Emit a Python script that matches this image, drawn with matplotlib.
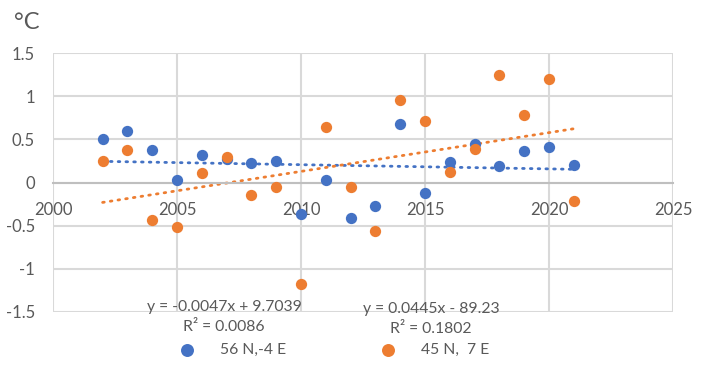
import numpy as np
import matplotlib
matplotlib.use('Agg')
from matplotlib import pyplot as plt

plt.rcParams['font.family'] = ['Lato', 'DejaVu Sans']

years = list(range(2002, 2022))
north56 = [0.50, 0.60, 0.38, 0.03, 0.32, 0.27, 0.23, 0.25, -0.36, 0.03,
           -0.41, -0.27, 0.68, -0.12, 0.24, 0.45, 0.19, 0.36, 0.41, 0.20]
north45 = [0.25, 0.38, -0.44, -0.52, 0.11, 0.30, -0.14, -0.05, -1.17, 0.64,
           -0.05, -0.56, 0.95, 0.71, 0.12, 0.39, 1.24, 0.78, 1.20, -0.22]
label56 = '56 N,-4 E'
label45 = '45 N,  7 E'
eq56 = 'y = -0.0047x + 9.7039\nR² = 0.0086'
eq45 = 'y = 0.0445x - 89.23\nR² = 0.1802'

blue = '#4472C4'
orange = '#ED7D31'
txt = '#595959'

fig = plt.figure(figsize=(7.04, 3.72), dpi=100)
ax = fig.add_axes([0.0753, 0.1613, 0.8807, 0.6962])

x = np.array(years)
for vals, col in [(north56, blue), (north45, orange)]:
    k, b = np.polyfit(x, vals, 1)
    ax.plot(x, k * x + b, color=col, lw=2, ls=(0, (0.6, 2.2)),
            dash_capstyle='round', zorder=2)

s56 = ax.scatter(years, north56, s=66, color=blue, zorder=3, linewidths=0)
s45 = ax.scatter(years, north45, s=66, color=orange, zorder=4, linewidths=0)

ax.set_xlim(2000, 2025)
ax.set_ylim(-1.5, 1.5)
ax.set_xticks(range(2000, 2026, 5))
ax.set_yticks([-1.5, -1, -0.5, 0, 0.5, 1, 1.5])
ax.set_yticklabels(['-1.5', '-1', '-0.5', '0', '0.5', '1', '1.5'])
ax.grid(True, color='#d9d9d9', lw=1.5)
ax.set_axisbelow(True)
for sp in ['top', 'right', 'left']:
    ax.spines[sp].set_visible(False)
ax.spines['bottom'].set_position(('data', 0))
ax.spines['bottom'].set_color('#bfbfbf')
ax.spines['bottom'].set_linewidth(1.5)
ax.tick_params(length=0, labelsize=12, labelcolor=txt)
ax.tick_params(axis='x', pad=14)
ax.tick_params(axis='y', pad=13)

fig.text(0.020, 0.94, '°C', fontsize=17, color=txt, va='center', ha='left')

ax.text(2006.9, -1.56, eq56, fontsize=11.3, color=txt, ha='center', va='center',
        linespacing=1.55)
ax.text(2015.25, -1.58, eq45, fontsize=11.3, color=txt, ha='center', va='center',
        linespacing=1.55)

for h, lab, xpos in [(s56, label56, 171 / 704), (s45, label45, 372 / 704)]:
    fig.legend([h], [lab], loc='center left', bbox_to_anchor=(xpos, 0.059),
               frameon=False, fontsize=11.3, labelcolor=txt,
               handlelength=2, handletextpad=1.1, borderpad=0,
               borderaxespad=0, markerscale=1.15)

fig.savefig('out.png', dpi=100)
